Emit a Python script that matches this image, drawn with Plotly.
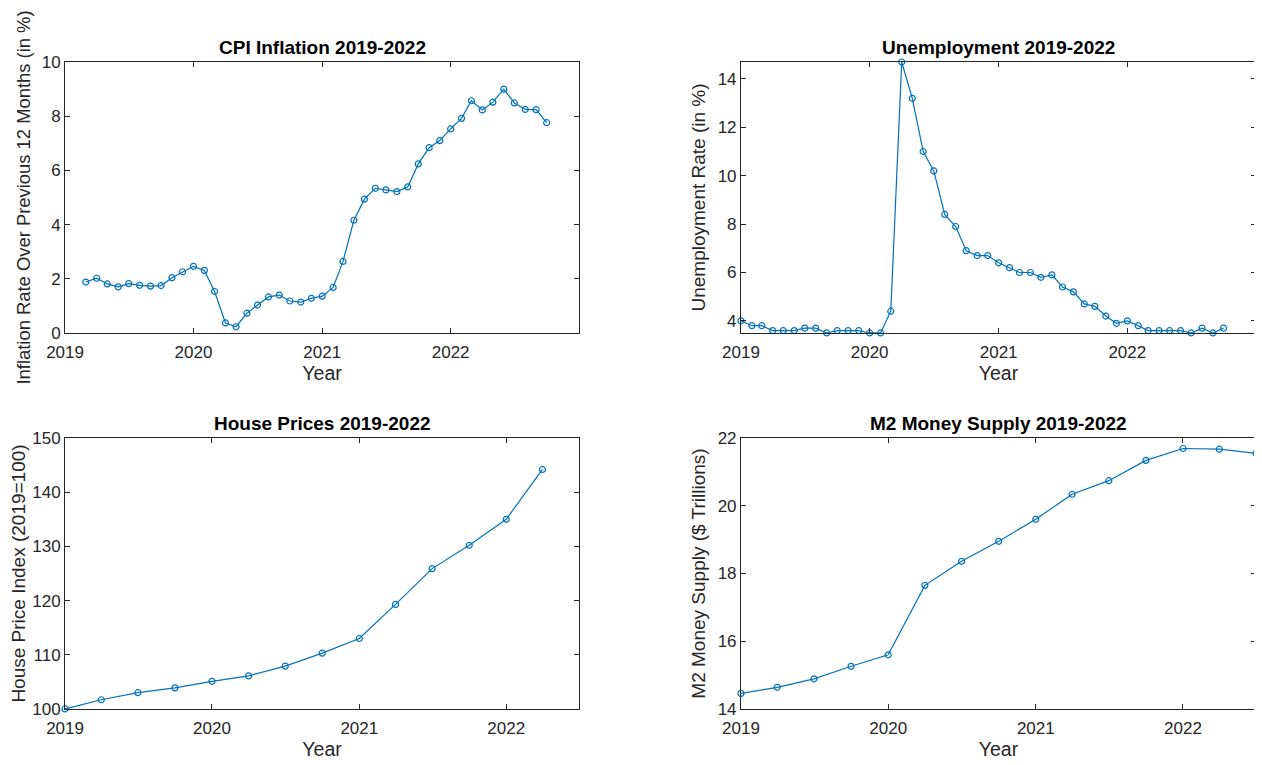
import pandas as pd
import plotly.graph_objects as go
from plotly.subplots import make_subplots

# CPI inflation, monthly from Mar 2019 (%)
cpi_inflation = [
    1.88, 2.02, 1.81, 1.70, 1.82, 1.76, 1.73, 1.75, 2.04, 2.26, 2.46,
    2.31, 1.53, 0.37, 0.23, 0.73, 1.03, 1.33, 1.40, 1.18, 1.14, 1.28,
    1.36, 1.68, 2.64, 4.16, 4.94, 5.34, 5.28, 5.22, 5.39, 6.24, 6.84,
    7.10, 7.53, 7.92, 8.57, 8.23, 8.52, 9.00, 8.49, 8.25, 8.24, 7.76,
]

# unemployment rate, monthly from Jan 2019 (%)
unemployment = [
    4.0, 3.8, 3.8, 3.6, 3.6, 3.6, 3.7, 3.7, 3.5, 3.6, 3.6, 3.6,
    3.5, 3.5, 4.4, 14.7, 13.2, 11.0, 10.2, 8.4, 7.9, 6.9, 6.7, 6.7,
    6.4, 6.2, 6.0, 6.0, 5.8, 5.9, 5.4, 5.2, 4.7, 4.6, 4.2, 3.9,
    4.0, 3.8, 3.6, 3.6, 3.6, 3.6, 3.5, 3.7, 3.5, 3.7,
]

# house price index, quarterly from Q1 2019 (2019=100)
house_price_index = [
    100.0, 101.7, 103.0, 103.9, 105.1, 106.1, 107.9,
    110.3, 113.0, 119.3, 125.9, 130.2, 135.0, 144.2,
]

# M2 money supply, quarterly from Q1 2019 ($ trillions)
m2_supply = [
    14.46, 14.64, 14.89, 15.26, 15.60, 17.65, 18.36, 18.95,
    19.60, 20.34, 20.74, 21.34, 21.69, 21.67, 21.55,
]

year_ticks = ["2019-01-01", "2020-01-01", "2021-01-01", "2022-01-01"]
year_labels = ["2019", "2020", "2021", "2022"]

cpi_months = pd.date_range("2019-03-01", periods=len(cpi_inflation), freq="MS")
unemp_months = pd.date_range("2019-01-01", periods=len(unemployment), freq="MS")
hpi_quarters = pd.date_range("2019-01-01", periods=len(house_price_index), freq="QS")
m2_quarters = pd.date_range("2019-01-01", periods=len(m2_supply), freq="QS")

LINE_COLOR = "#0072BD"
AXIS_COLOR = "#262626"
FONT = "Liberation Sans, Arial, sans-serif"

fig = make_subplots(rows=2, cols=2)

panels = [
    (cpi_months, cpi_inflation, 1, 1),
    (unemp_months, unemployment, 1, 2),
    (hpi_quarters, house_price_index, 2, 1),
    (m2_quarters, m2_supply, 2, 2),
]
for x, y, r, c in panels:
    fig.add_trace(
        go.Scatter(
            x=x,
            y=y,
            mode="lines+markers",
            line=dict(color=LINE_COLOR, width=1.2),
            marker=dict(symbol="circle-open", size=6, color=LINE_COLOR,
                        line=dict(width=1.2)),
            cliponaxis=False,
            showlegend=False,
        ),
        row=r,
        col=c,
    )

axis_style = dict(
    showline=True,
    linecolor=AXIS_COLOR,
    linewidth=1,
    mirror="ticks",
    ticks="inside",
    ticklen=5,
    tickcolor=AXIS_COLOR,
    showgrid=False,
    zeroline=False,
    automargin=False,
    tickfont=dict(size=17, color=AXIS_COLOR, family=FONT),
)

# domains in paper coords, measured off the reference
# (the page body adds an 8px offset, so these are shifted back by 8px)
x_dom = {1: [0.0452, 0.4525], 2: [0.5808, 0.9889]}
y_dom = {1: [0.5752, 0.9294], 2: [0.0837, 0.4379]}

y_titles = {
    (1, 1): "Inflation Rate Over Previous 12 Months (in %)",
    (1, 2): "Unemployment Rate (in %)",
    (2, 1): "House Price Index (2019=100)",
    (2, 2): "M2 Money Supply ($ Trillions)",
}
# the long CPI label only just fits the page height
y_title_sizes = {(1, 1): 18.4, (1, 2): 19, (2, 1): 19, (2, 2): 19}
y_ranges = {
    (1, 1): ([0, 10], [0, 2, 4, 6, 8, 10]),
    (1, 2): ([3.5, 14.7], [4, 6, 8, 10, 12, 14]),
    (2, 1): ([100, 150], [100, 110, 120, 130, 140, 150]),
    (2, 2): ([14, 22], [14, 16, 18, 20, 22]),
}
x_ends = {1: "2023-01-01", 2: "2022-07-01"}
titles = {
    (1, 1): "CPI Inflation 2019-2022",
    (1, 2): "Unemployment 2019-2022",
    (2, 1): "House Prices 2019-2022",
    (2, 2): "M2 Money Supply 2019-2022",
}

for (r, c), ytitle in y_titles.items():
    fig.update_xaxes(
        axis_style,
        domain=x_dom[c],
        range=["2019-01-01", x_ends[r]],
        tickvals=year_ticks,
        ticktext=year_labels,
        ticklabelstandoff=4,
        title=dict(text="Year", font=dict(size=19.5, color=AXIS_COLOR, family=FONT),
                   standoff=4),
        row=r,
        col=c,
    )
    rng, ticks = y_ranges[(r, c)]
    fig.update_yaxes(
        axis_style,
        domain=y_dom[r],
        range=rng,
        tickvals=ticks,
        title=dict(text=ytitle,
                   font=dict(size=y_title_sizes[(r, c)], color=AXIS_COLOR, family=FONT),
                   standoff=6),
        row=r,
        col=c,
    )
    fig.add_annotation(
        text="<b>" + titles[(r, c)] + "</b>",
        xref="paper",
        yref="paper",
        x=sum(x_dom[c]) / 2,
        y=y_dom[r][1],
        xanchor="center",
        yanchor="bottom",
        yshift=2,
        showarrow=False,
        font=dict(size=19, color="#000000", family=FONT),
    )

fig.update_layout(
    width=1262,
    height=765,
    margin=dict(l=0, r=0, t=0, b=0),
    paper_bgcolor="white",
    plot_bgcolor="white",
    font=dict(family=FONT),
)

fig.write_html("out.html")
